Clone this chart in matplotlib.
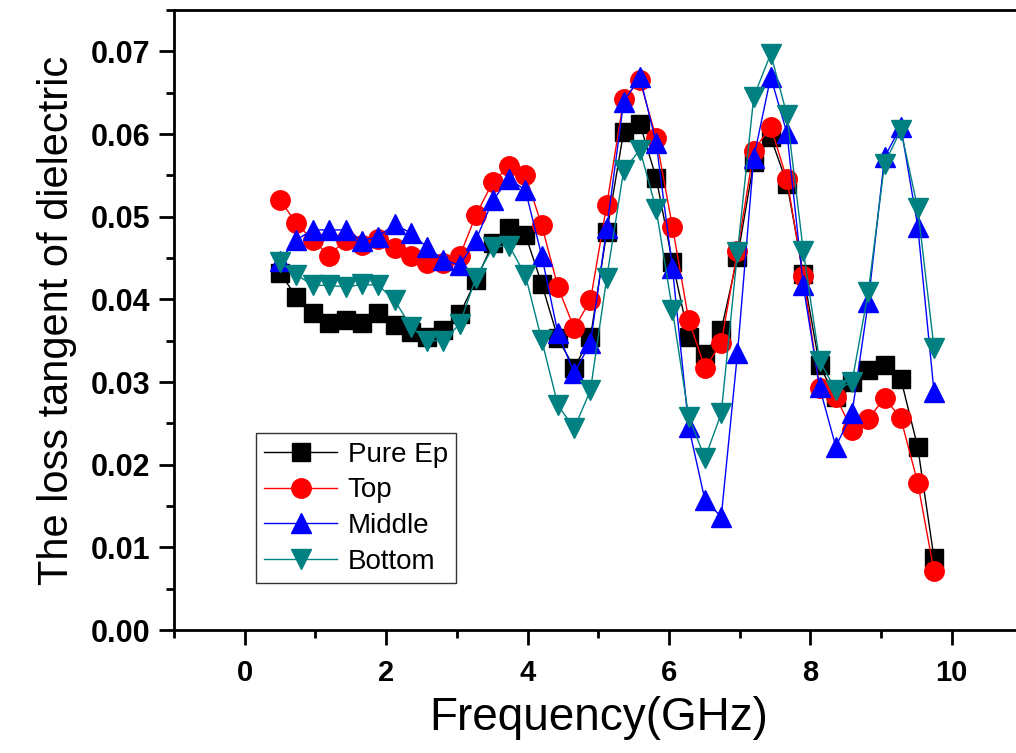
import matplotlib
matplotlib.use("Agg")
import matplotlib.pyplot as plt
from matplotlib.ticker import MultipleLocator, FormatStrFormatter

plt.rcParams['font.family'] = ['Liberation Sans', 'DejaVu Sans']

# Measurement frequencies (GHz)
freq = [0.50, 0.73, 0.96, 1.19, 1.43, 1.66, 1.89, 2.12, 2.35, 2.58,
        2.81, 3.04, 3.27, 3.51, 3.74, 3.97, 4.20, 4.43, 4.66, 4.89,
        5.12, 5.36, 5.59, 5.82, 6.05, 6.28, 6.51, 6.74, 6.97, 7.20,
        7.44, 7.67, 7.90, 8.13, 8.36, 8.59, 8.82, 9.05, 9.28, 9.52, 9.75]

# Dielectric loss tangent for each sample
pure_ep = [0.0432, 0.0403, 0.0384, 0.0371, 0.0375, 0.0371, 0.0383, 0.0369, 0.0361, 0.0354,
           0.0363, 0.0382, 0.0423, 0.0468, 0.0486, 0.0478, 0.0419, 0.0353, 0.0317, 0.0354,
           0.0481, 0.0603, 0.0612, 0.0547, 0.0445, 0.0355, 0.0334, 0.0363, 0.0451, 0.0566,
           0.0596, 0.0540, 0.0431, 0.0320, 0.0282, 0.0300, 0.0314, 0.0320, 0.0304, 0.0221, 0.0087]
top = [0.0520, 0.0492, 0.0472, 0.0453, 0.0472, 0.0466, 0.0473, 0.0462, 0.0452, 0.0444,
       0.0444, 0.0452, 0.0502, 0.0542, 0.0561, 0.0550, 0.0490, 0.0415, 0.0365, 0.0399,
       0.0514, 0.0642, 0.0665, 0.0595, 0.0488, 0.0375, 0.0317, 0.0347, 0.0459, 0.0580,
       0.0609, 0.0545, 0.0428, 0.0293, 0.0282, 0.0242, 0.0255, 0.0281, 0.0256, 0.0178, 0.0071]
middle = [0.0447, 0.0472, 0.0484, 0.0484, 0.0484, 0.0471, 0.0476, 0.0491, 0.0480, 0.0463,
          0.0448, 0.0441, 0.0472, 0.0520, 0.0546, 0.0532, 0.0453, 0.0359, 0.0311, 0.0347,
          0.0486, 0.0639, 0.0669, 0.0589, 0.0438, 0.0246, 0.0157, 0.0137, 0.0335, 0.0571,
          0.0669, 0.0601, 0.0417, 0.0294, 0.0222, 0.0262, 0.0397, 0.0572, 0.0609, 0.0488, 0.0288]
bottom = [0.0445, 0.0430, 0.0417, 0.0417, 0.0415, 0.0418, 0.0417, 0.0399, 0.0367, 0.0350,
          0.0350, 0.0370, 0.0426, 0.0463, 0.0465, 0.0429, 0.0351, 0.0272, 0.0244, 0.0290,
          0.0426, 0.0556, 0.0581, 0.0509, 0.0387, 0.0258, 0.0208, 0.0262, 0.0457, 0.0645,
          0.0697, 0.0623, 0.0459, 0.0326, 0.0290, 0.0300, 0.0409, 0.0564, 0.0605, 0.0510, 0.0341]

series = [
    ("Pure Ep", pure_ep, "black", "s", 13),
    ("Top", top, "#ff0000", "o", 14),
    ("Middle", middle, "#0000ff", "^", 15),
    ("Bottom", bottom, "#008080", "v", 15),
]

fig = plt.figure(figsize=(10.16, 7.53), dpi=100)
ax = fig.add_axes([0.1713, 0.1633, 0.835, 0.8234])

for name, vals, color, marker, ms in series:
    ax.plot(freq, vals, color=color, lw=1.0, marker=marker, ms=ms,
            mfc=color, mec=color, label=name)

ax.set_xlim(-1, 11)
ax.set_ylim(0, 0.075)
ax.xaxis.set_major_locator(MultipleLocator(2))
ax.xaxis.set_minor_locator(MultipleLocator(1))
ax.yaxis.set_major_locator(MultipleLocator(0.01))
ax.yaxis.set_minor_locator(MultipleLocator(0.005))
ax.yaxis.set_major_formatter(FormatStrFormatter('%.2f'))

ax.tick_params(which='major', direction='out', length=11, width=2)
ax.tick_params(which='minor', direction='out', length=6, width=2)
ax.tick_params(axis='x', labelsize=21, pad=10)
ax.tick_params(axis='y', labelsize=22, pad=6)
for lab in ax.get_xticklabels() + ax.get_yticklabels():
    lab.set_fontweight('bold')
for sp in ax.spines.values():
    sp.set_linewidth(2)

ax.set_xlabel("Frequency(GHz)", fontsize=33, labelpad=6)
ax.set_ylabel("The loss tangent of dielectric", fontsize=30, labelpad=10)

leg = ax.legend(loc='lower left', bbox_to_anchor=(0.0967, 0.0758), borderaxespad=0,
                fontsize=20, frameon=True, fancybox=False, handlelength=2.6,
                labelspacing=0.35, borderpad=0.3, handletextpad=0.4)
leg.get_frame().set_edgecolor('black')
leg.get_frame().set_linewidth(1.0)

fig.savefig("out.png", dpi=100)
